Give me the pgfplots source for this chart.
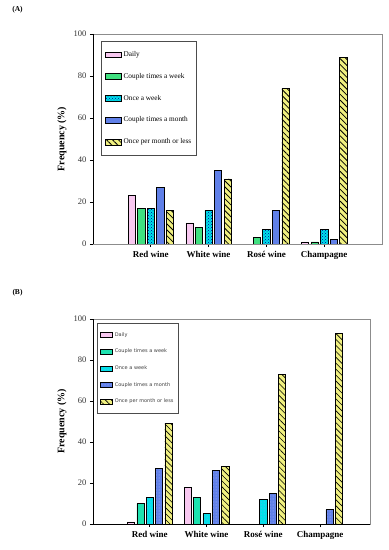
\documentclass[border=0pt]{standalone}
\usepackage{fontspec}
\setmainfont{Liberation Serif}
\newfontfamily\legsans{DejaVu Sans}
\usepackage{pgfplots}
\usepackage{pgfplotstable}
\pgfplotsset{compat=1.18}
\usetikzlibrary{patterns,patterns.meta}

\definecolor{cDaily}{RGB}{248,200,240}
\definecolor{cCTWa}{RGB}{64,224,128}
\definecolor{cCTWb}{RGB}{30,226,176}
\definecolor{cOW}{RGB}{0,226,232}
\definecolor{cCTM}{RGB}{96,128,232}
\definecolor{cOPM}{RGB}{240,240,128}

\pgfplotstableread{
x daily ctw ow ctm opm
0 23 17 17 27 16
1 10 8 16 35 31
2 nan 3 7 16 74
3 1 1 7 2 89
}\dataA

\pgfplotstableread{
x daily ctw ow ctm opm
0 1 10 13 27 49
1 18 13 5 26 28
2 nan nan 12 15 73
3 nan nan nan 7 93
}\dataB

\pgfplotsset{
  winebase/.style={
    anchor=south west, scale only axis,
    xmin=-1, ymin=0, ymax=100,
    ytick={0,20,...,100}, xtick={0,1,2,3},
    xticklabels={Red wine, White wine, Rosé wine, Champagne},
    x tick label style={font=\bfseries\fontsize{9}{10}\selectfont, yshift=-1pt},
    y tick label style={font=\fontsize{8.5}{10}\selectfont, text=black!80},
    /pgf/number format/assume math mode=true,
    tick align=outside, tick pos=left,
    major tick length=3pt,
    tick style={black, line width=0.6pt},
    axis line style={black!45, line width=0.8pt},
    ylabel={Frequency (\%)},
    ybar, bar width=0.125,
    legend cell align=left,
  },
  bars/.style={draw=black, line width=0.6pt},
}

\begin{document}
\begin{tikzpicture}
\path[use as bounding box] (0pt,0pt) rectangle (389pt,550pt);

\node[font=\bfseries\fontsize{7.5}{8}\selectfont] at (17.5pt,540pt) {(A)};
\node[font=\bfseries\fontsize{7.5}{8}\selectfont] at (17.5pt,257pt) {(B)};

% ---------- Panel A ----------
\begin{axis}[winebase,
  at={(93pt,306pt)}, width=289pt, height=210pt, xmax=4,
  ylabel style={font=\bfseries\fontsize{10}{12}\selectfont, at={(axis description cs:-0.107,0.5)}, anchor=center},
  legend style={at={(0.028,0.967)}, anchor=north west,
    font=\fontsize{7.3}{8}\selectfont, draw=black!70, line width=0.8pt,
    inner xsep=3.5pt, inner ysep=8pt, row sep=11.3pt},
  legend image code/.code={\draw[#1] (0pt,-2.8pt) rectangle (16pt,2.8pt);},
]
\addplot[bars, fill=cDaily, bar shift=-0.33] table[x=x,y=daily]{\dataA};
\addlegendentry{Daily}
\addplot[bars, fill=cCTWa, bar shift=-0.165] table[x=x,y=ctw]{\dataA};
\addlegendentry{Couple times a week}
\addplot[bars, fill=cOW, postaction={pattern=crosshatch dots, pattern color=blue!60!black}, bar shift=0] table[x=x,y=ow]{\dataA};
\addlegendentry{Once a week}
\addplot[bars, fill=cCTM, bar shift=0.165] table[x=x,y=ctm]{\dataA};
\addlegendentry{Couple times a month}
\addplot[bars, fill=cOPM, postaction={pattern={Lines[angle=-45,distance=4.2pt,line width=0.8pt]}, pattern color=black}, bar shift=0.33] table[x=x,y=opm]{\dataA};
\addlegendentry{Once per month or less}
\draw[black, line width=0.8pt] (rel axis cs:0,1) -- (rel axis cs:0,0) -- (rel axis cs:1,0);
\end{axis}

% ---------- Panel B ----------
\begin{axis}[winebase,
  at={(93pt,26pt)}, width=277pt, height=205pt, xmax=3.88,
  ylabel style={font=\bfseries\fontsize{10}{12}\selectfont, at={(axis description cs:-0.112,0.5)}, anchor=center},
  legend style={at={(0.014,0.98)}, anchor=north west,
    font=\legsans\fontsize{5}{5.5}\selectfont, text=black!75, draw=black!70, line width=0.8pt,
    inner xsep=3pt, inner ysep=7pt, row sep=7.3pt},
  legend image code/.code={\draw[#1] (0pt,-2.5pt) rectangle (12pt,2.5pt);},
]
\addplot[bars, fill=cDaily, bar shift=-0.33] table[x=x,y=daily]{\dataB};
\addlegendentry{Daily}
\addplot[bars, fill=cCTWb, bar shift=-0.165] table[x=x,y=ctw]{\dataB};
\addlegendentry{Couple times a week}
\addplot[bars, fill=cOW, postaction={pattern=dots, pattern color=blue!40}, bar shift=0] table[x=x,y=ow]{\dataB};
\addlegendentry{Once a week}
\addplot[bars, fill=cCTM, postaction={pattern=dots, pattern color=blue!25}, bar shift=0.165] table[x=x,y=ctm]{\dataB};
\addlegendentry{Couple times a month}
\addplot[bars, fill=cOPM, postaction={pattern={Lines[angle=-45,distance=4.2pt,line width=0.6pt]}, pattern color=black}, bar shift=0.33] table[x=x,y=opm]{\dataB};
\addlegendentry{Once per month or less}
\draw[black, line width=0.8pt] (rel axis cs:0,1) -- (rel axis cs:0,0) -- (rel axis cs:1,0);
\end{axis}
\end{tikzpicture}
\end{document}
